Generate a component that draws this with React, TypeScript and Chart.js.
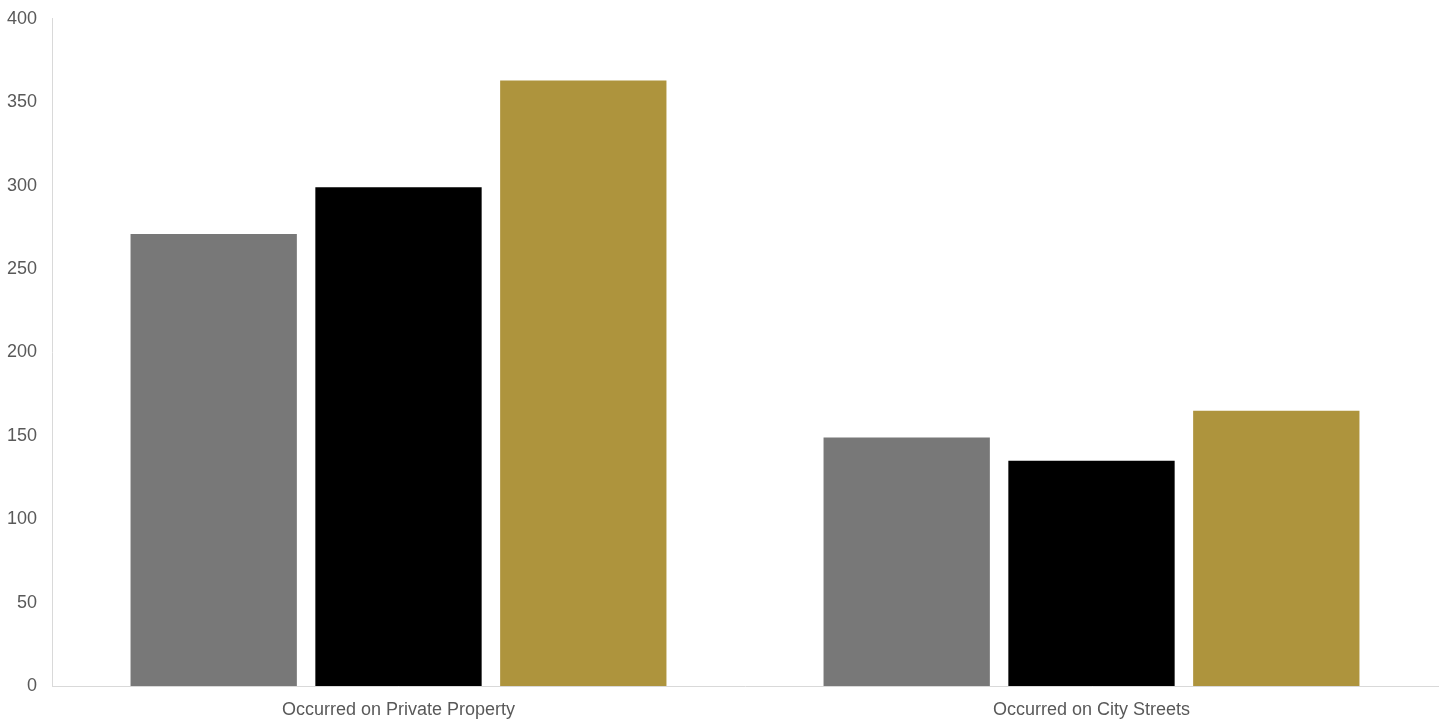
import React, { useEffect, useRef } from "react";
import { Chart, registerables } from "chart.js";

Chart.register(...registerables);

const categories = ["Occurred on Private Property", "Occurred on City Streets"];
const seriesLabels = ["Series 1", "Series 2", "Series 3"];
const seriesA = [271, 149];
const seriesB = [299, 135];
const seriesC = [363, 165];
const seriesColors = ["#787878", "#000000", "#AE943D"];
const yMin = 0;
const yMax = 400;
const yStep = 50;

export default function App() {
  const ref = useRef<HTMLCanvasElement | null>(null);

  useEffect(() => {
    if (!ref.current) return;
    const values = [seriesA, seriesB, seriesC];
    const chart = new Chart(ref.current, {
      type: "bar",
      data: {
        labels: categories,
        datasets: values.map((v, i) => ({
          label: seriesLabels[i],
          data: v,
          backgroundColor: seriesColors[i],
          borderWidth: 0,
          categoryPercentage: 0.8,
          barPercentage: 0.9,
        })),
      },
      options: {
        animation: false,
        responsive: true,
        maintainAspectRatio: false,
        layout: { padding: { top: 0, right: 8, left: 0, bottom: 0 } },
        plugins: {
          legend: { display: false },
          tooltip: { enabled: false },
        },
        scales: {
          x: {
            grid: { display: false, drawTicks: false },
            border: { display: true, color: "#d9d9d9", width: 1 },
            ticks: {
              color: "#595959",
              font: { family: "'Liberation Sans', Arial, sans-serif", size: 18 },
              padding: 13,
            },
            afterFit: (s: any) => {
              s.height = 37;
            },
          },
          y: {
            min: yMin,
            max: yMax,
            grid: { display: false, drawTicks: false },
            border: { display: true, color: "#d9d9d9", width: 1 },
            ticks: {
              stepSize: yStep,
              color: "#595959",
              font: { family: "'Liberation Sans', Arial, sans-serif", size: 18 },
              padding: 15,
            },
            afterFit: (s: any) => {
              s.width = 52;
            },
          },
        },
      },
    });
    return () => chart.destroy();
  }, []);

  return (
    <div style={{ position: "fixed", left: 0, top: -7, width: 1446, height: 730, background: "#fff" }}>
      <canvas ref={ref} />
    </div>
  );
}
